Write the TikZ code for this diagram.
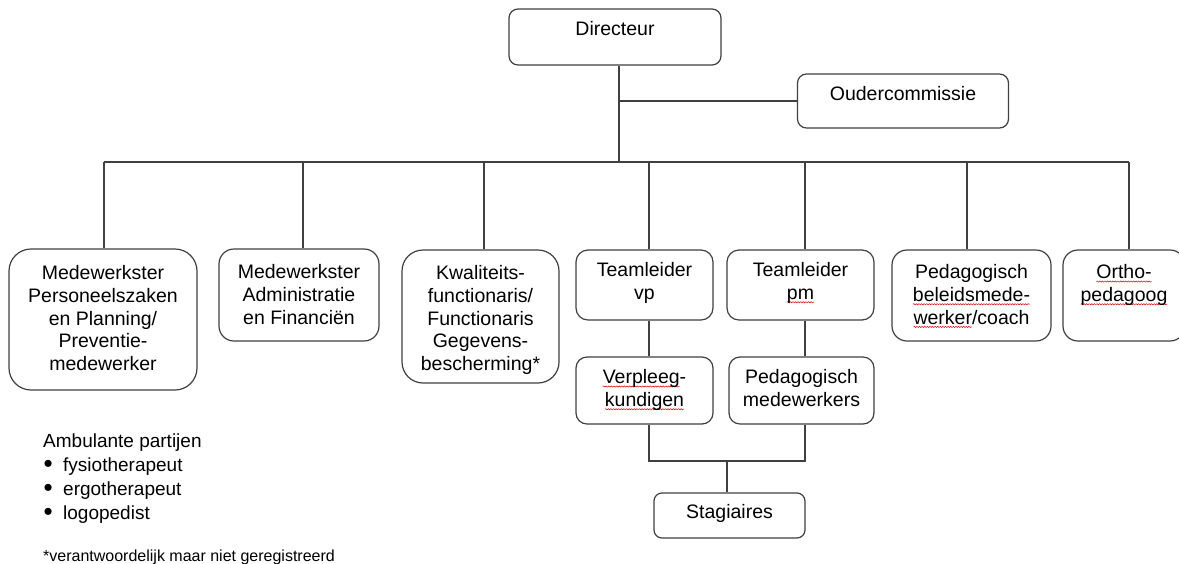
\documentclass[tikz,border=0pt]{standalone}
\usepackage{fontspec}
\setmainfont{Liberation Sans}
\usetikzlibrary{positioning,decorations.pathmorphing}

\newlength\spellwd
\newcommand\spellmark[1]{\settowidth\spellwd{#1}\tikz[overlay,baseline=0pt]\draw[red!85!black, line width=0.5pt, decorate, decoration={snake, segment length=2.6pt, amplitude=0.6pt}] (0pt,-2.8pt) -- (\spellwd,-2.8pt);#1}

\tikzset{
  orgbox/.style={draw=black!75, line width=1.2pt, fill=white, inner sep=0pt},
  orgtxt/.style={align=center, inner sep=0pt, font=\fontsize{19.5}{22.7}\selectfont},
  orgline/.style={draw=black!75, line width=1.2pt},
}

\begin{document}
\begin{tikzpicture}[x=1pt,y=-1pt]
\useasboundingbox (0,0) rectangle (1179,563);

 \coordinate (bus) at (104,162);
 \coordinate (busR) at (1129,162);
 \coordinate (join) at (727,461);

% boxes
\node[orgbox, rounded corners=9pt, minimum width=212pt, minimum height=56pt] (dir) at (615,37) {};
\node[orgbox, rounded corners=9pt, minimum width=211pt, minimum height=54pt] (odc) at (903,101) {};
\node[orgbox, rounded corners=22pt, minimum width=188pt, minimum height=141pt] (mps) at (103,319.5) {};
\node[orgbox, rounded corners=15pt, minimum width=160pt, minimum height=92pt] (mad) at (299,295) {};
\node[orgbox, rounded corners=21pt, minimum width=157pt, minimum height=133pt] (kwf) at (480.5,316.5) {};
\node[orgbox, rounded corners=12pt, minimum width=137pt, minimum height=70pt] (tvp) at (644.5,285) {};
\node[orgbox, rounded corners=12pt, minimum width=147pt, minimum height=70pt] (tpm) at (800.5,285) {};
\node[orgbox, rounded corners=15pt, minimum width=159pt, minimum height=91pt] (pbm) at (971.5,295.5) {};
\node[orgbox, rounded corners=15pt, minimum width=122pt, minimum height=91pt] (orth) at (1124,295.5) {};
\node[orgbox, rounded corners=11pt, minimum width=137pt, minimum height=67pt] (vpk) at (644.5,390.5) {};
\node[orgbox, rounded corners=11pt, minimum width=145pt, minimum height=67pt] (pmw) at (801.5,390.5) {};
\node[orgbox, rounded corners=8pt, minimum width=151pt, minimum height=45pt] (stg) at (729.5,515.5) {};

% texts
\node[orgtxt, below=13pt of dir.north] (dirt) {Directeur};
\node[orgtxt, below=13pt of odc.north] (odct) {Oudercommissie};
\node[orgtxt, below=17pt of mps.north] (mpst) {Medewerkster\\Personeelszaken\\en Planning/\\Preventie-\\medewerker};
\node[orgtxt, below=16pt of mad.north] (madt) {Medewerkster\\Administratie\\en Financiën};
\node[orgtxt, below=16pt of kwf.north] (kwft) {Kwaliteits-\\functionaris/\\Functionaris\\Gegevens-\\bescherming*};
\node[orgtxt, below=13pt of tvp.north] (tvpt) {Teamleider\\vp};
\node[orgtxt, below=13pt of tpm.north] (tpmt) {Teamleider\\\spellmark{pm}};
\node[orgtxt, below=15pt of pbm.north] (pbmt) {Pedagogisch\\\spellmark{beleidsmede-}\\\spellmark{werker}/coach};
\node[orgtxt, below=15pt of orth.north] (ortht) {\spellmark{Ortho-}\\\spellmark{pedagoog}};
\node[orgtxt, below=13pt of vpk.north] (vpkt) {\spellmark{Verpleeg}-\\\spellmark{kundigen}};
\node[orgtxt, below=13pt of pmw.north] (pmwt) {Pedagogisch\\medewerkers};
\node[orgtxt, below=12pt of stg.north] (stgt) {Stagiaires};

% connectors
\coordinate (dirb) at ([xshift=4pt]dir.south);
\draw[orgline] (dirb) -- (dirb |- bus);
\draw[orgline] (odc.west) -- (odc.west -| dirb);
\draw[orgline] (bus) -- (busR);
\draw[orgline] ([xshift=1pt]mps.north) -- ([xshift=1pt]mps.north |- bus);
\draw[orgline] ([xshift=4pt]mad.north) -- ([xshift=4pt]mad.north |- bus);
\draw[orgline] ([xshift=3.5pt]kwf.north) -- ([xshift=3.5pt]kwf.north |- bus);
\draw[orgline] ([xshift=4.5pt]tvp.north) -- ([xshift=4.5pt]tvp.north |- bus);
\draw[orgline] ([xshift=4.5pt]tpm.north) -- ([xshift=4.5pt]tpm.north |- bus);
\draw[orgline] ([xshift=-4.5pt]pbm.north) -- ([xshift=-4.5pt]pbm.north |- bus);
\draw[orgline] ([xshift=5pt]orth.north) -- ([xshift=5pt]orth.north |- bus);

\draw[orgline] ([xshift=4.5pt]tvp.south) -- ([xshift=4.5pt]tvp.south |- vpk.north);
\draw[orgline] ([xshift=4.5pt]tpm.south) -- ([xshift=4.5pt]tpm.south |- pmw.north);
\draw[orgline] ([xshift=4.5pt]vpk.south) -- ([xshift=4.5pt]vpk.south |- join)
  -- ([xshift=3.5pt]pmw.south |- join) -- ([xshift=3.5pt]pmw.south);
\draw[orgline] ([xshift=-2.5pt]stg.north) -- ([xshift=-2.5pt]stg.north |- join);

% side notes
\node[anchor=north west, align=left, inner sep=0pt, font=\fontsize{19}{23.7}\selectfont] (amb) at (43,434)
  {Ambulante partijen\\
   \makebox[20pt][l]{\hspace{0.5pt}\raisebox{-1pt}{\fontsize{26}{26}\selectfont •}}fysiotherapeut\\
   \makebox[20pt][l]{\hspace{0.5pt}\raisebox{-1pt}{\fontsize{26}{26}\selectfont •}}ergotherapeut\\
   \makebox[20pt][l]{\hspace{0.5pt}\raisebox{-1pt}{\fontsize{26}{26}\selectfont •}}logopedist};
\node[anchor=north west, inner sep=0pt, font=\fontsize{16}{19}\selectfont] (note) at (43,550)
  {*verantwoordelijk maar niet geregistreerd};

\end{tikzpicture}
\end{document}
